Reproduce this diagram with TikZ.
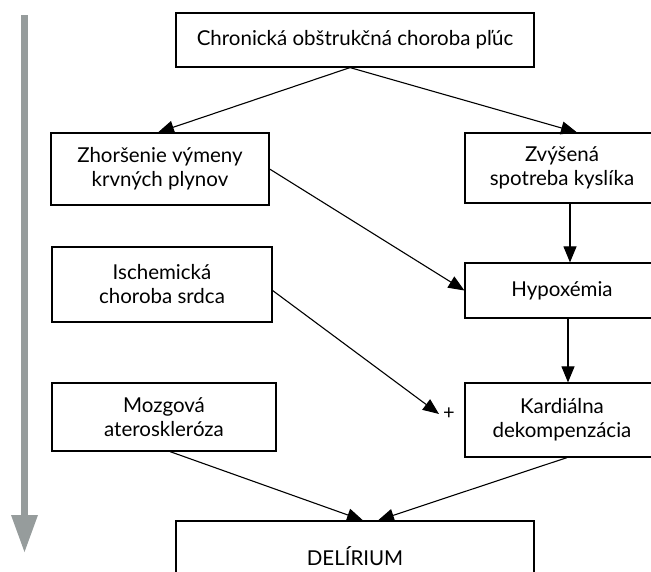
\documentclass[tikz,border=0pt]{standalone}
\usepackage{fontspec}
\setmainfont{Lato}
\usetikzlibrary{arrows.meta}
\definecolor{bargray}{RGB}{150,156,156}
\tikzset{
  box/.style={draw=black, line width=1.2pt, rectangle, inner sep=0pt, align=center,
    font=\fontsize{20.5}{24}\selectfont},
  conn/.style={line width=1.1pt, -{Triangle[length=16pt,width=13pt]}},
}
\begin{document}
\begin{tikzpicture}[x=1pt,y=-1pt]
\useasboundingbox (0,0) rectangle (651,572);
% gray timeline arrow
\fill[bargray] (21,15) rectangle (28,516);
\fill[bargray] (11,515) -- (38,515) -- (24.5,552) -- cycle;

\node[box, minimum width=358pt, minimum height=54pt] (top) at (355,40) {Chronická obštrukčná choroba pľúc};
\node[box, minimum width=218pt, minimum height=72pt] (zh) at (160,169) {Zhoršenie výmeny\\krvných plynov};
\node[box, minimum width=194pt, minimum height=70pt] (zv) at (562,168) {Zvýšená\\spotreba kyslíka};
\node[box, minimum width=220pt, minimum height=75pt] (is) at (162,284.5) {Ischemická\\choroba srdca};
\node[box, minimum width=194pt, minimum height=55pt] (hy) at (562,290.5) {Hypoxémia};
\node[box, minimum width=224pt, minimum height=68pt] (mz) at (164,417) {Mozgová\\ateroskleróza};
\node[box, minimum width=194pt, minimum height=74pt] (kd) at (562,420) {Kardiálna\\dekompenzácia};
\node[box, minimum width=358pt, minimum height=70pt] (de) at (355,556) {DELÍRIUM};
\node[inner sep=1pt, font=\fontsize{20}{20}\selectfont] (plus) at (449,414) {+};

\draw[conn] ([xshift=-5pt]top.south) -- ([xshift=-2pt]zh.north);
\draw[conn] ([xshift=-5pt]top.south) -- ([xshift=15pt]zv.north);
\draw[conn] (zh.east) -- (hy.west);
\draw[conn] ([xshift=8pt]zv.south) -- ([xshift=8pt]hy.north);
\draw[conn] ([xshift=6pt]hy.south) -- ([xshift=6pt]kd.north);
\draw[conn] ([yshift=-6pt]is.east) -- ([xshift=-3pt]plus.west);
\draw[conn] ([xshift=6pt]mz.south) -- ([xshift=8pt]de.north);
\draw[conn] ([xshift=5pt]kd.south) -- ([xshift=23pt]de.north);
\end{tikzpicture}
\end{document}
